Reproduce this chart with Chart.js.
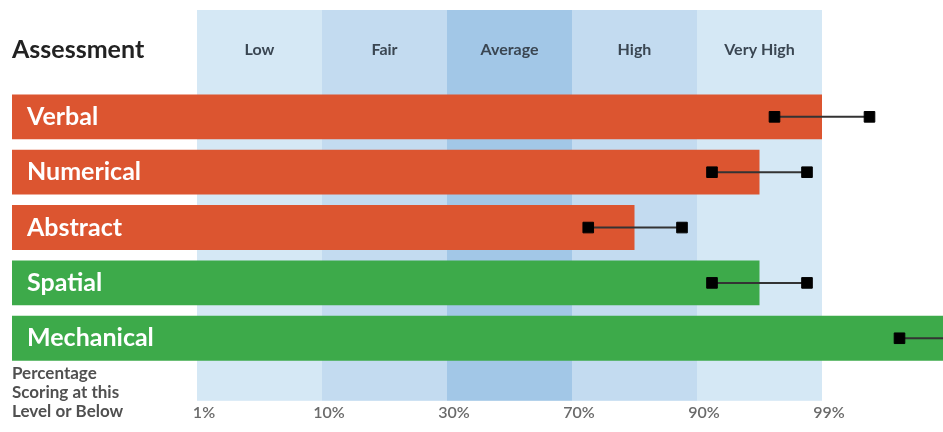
<!DOCTYPE html>
<html><head><meta charset="utf-8">
<script src="https://cdn.jsdelivr.net/npm/chart.js@4"></script>
<style>html,body{margin:0;padding:0;background:#fff;overflow:hidden}canvas{display:block}</style>
</head><body><canvas id="c" width="943" height="432" style="width:943px;height:432px"></canvas>
<script>
// ---- data ----
const categories = ['Verbal', 'Numerical', 'Abstract', 'Spatial', 'Mechanical'];
const barScores = [5.0, 4.5, 3.5, 4.5, 6.0];
const rangeLow = [4.62, 4.12, 3.13, 4.12, 5.62];
const rangeHigh = [5.38, 4.88, 3.88, 4.88, 6.38];
const barGroups = ['verbal', 'verbal', 'verbal', 'practical', 'practical'];
const bandLabels = ['Low', 'Fair', 'Average', 'High', 'Very High'];
const bandEdges = [0, 1, 2, 3, 4, 5];
const tickLabels = ['1%', '10%', '30%', '70%', '90%', '99%'];

// ---- styling / layout ----
const groupColors = { verbal: '#DC5530', practical: '#3DAA4A' };
const bandColors = ['#D5E8F5', '#C3DBF0', '#A2C7E7', '#C3DBF0', '#D5E8F5'];
const X_MIN = -1.48, X_MAX = 5.968;
const Y_MIN = -1.93, Y_MAX = 5.13;
const HEADER_ROW = -1.21;
const FONT = 'Lato, "Open Sans", sans-serif';

const bandsPlugin = {
  id: 'bands',
  beforeDatasetsDraw(chart) {
    const { ctx, chartArea, scales } = chart;
    const xs = scales.x, ys = scales.y;
    ctx.save();
    for (let i = 0; i < bandLabels.length; i++) {
      const x0 = xs.getPixelForValue(bandEdges[i]);
      const x1 = xs.getPixelForValue(bandEdges[i + 1]);
      ctx.fillStyle = bandColors[i];
      ctx.fillRect(x0, chartArea.top, x1 - x0, chartArea.bottom - chartArea.top);
    }
    ctx.fillStyle = '#3a4652';
    ctx.font = 'bold 16px ' + FONT;
    ctx.textAlign = 'center';
    ctx.textBaseline = 'middle';
    const hy = ys.getPixelForValue(HEADER_ROW);
    for (let i = 0; i < bandLabels.length; i++) {
      const xc = (xs.getPixelForValue(bandEdges[i]) + xs.getPixelForValue(bandEdges[i + 1])) / 2;
      ctx.fillText(bandLabels[i], xc, hy);
    }
    ctx.restore();
  },
  afterDatasetsDraw(chart) {
    const { ctx, scales } = chart;
    const meta = chart.getDatasetMeta(0);
    ctx.save();
    ctx.fillStyle = '#ffffff';
    ctx.font = 'bold 25px ' + FONT;
    ctx.textAlign = 'left';
    ctx.textBaseline = 'middle';
    meta.data.forEach((el, i) => {
      ctx.fillText(categories[i], el.base + 15, el.y);
    });
    // titles
    const ys = scales.y;
    ctx.fillStyle = '#222222';
    ctx.font = 'bold 25px ' + FONT;
    ctx.fillText('Assessment', chart.chartArea.left, ys.getPixelForValue(HEADER_ROW));
    ctx.fillStyle = '#505050';
    ctx.font = 'bold 17px ' + FONT;
    const lines = ['Percentage', 'Scoring at this', 'Level or Below'];
    lines.forEach((t, i) => ctx.fillText(t, chart.chartArea.left, 374 + i * 19));
    ctx.restore();
  }
};

const errorSets = categories.map((c, i) => ({
  type: 'scatter',
  label: c + ' range',
  data: [{ x: rangeLow[i], y: i }, { x: rangeHigh[i], y: i }],
  showLine: true,
  borderColor: '#333333',
  borderWidth: 2,
  pointStyle: 'rect',
  pointRadius: 7.5,
  pointBackgroundColor: '#000000',
  pointBorderColor: '#000000',
  pointBorderWidth: 1,
  order: 1
}));

new Chart(document.getElementById('c'), {
  data: {
    datasets: [
      {
        type: 'bar',
        indexAxis: 'y',
        label: 'Score',
        data: barScores.map((v, i) => ({ x: v, y: i })),
        backgroundColor: barGroups.map(g => groupColors[g]),
        base: X_MIN,
        barPercentage: 0.81,
        categoryPercentage: 1,
        borderWidth: 0,
        order: 2
      },
      ...errorSets
    ]
  },
  options: {
    responsive: false,
    animation: false,
    devicePixelRatio: 1,
    layout: { autoPadding: false, padding: { top: 10, left: 12, right: 0, bottom: 8 } },
    plugins: { legend: { display: false }, tooltip: { enabled: false } },
    scales: {
      x: {
        type: 'linear',
        min: X_MIN, max: X_MAX,
        afterBuildTicks: s => { s.ticks = bandEdges.map(v => ({ value: v })); },
        afterFit: s => { s.paddingLeft = 0; s.paddingRight = 0; },
        ticks: {
          callback: (v, i) => tickLabels[i],
          font: { family: FONT, size: 16, weight: '600' },
          color: '#6a6a6a',
          padding: 2,
          labelOffset: 7,
          autoSkip: false,
          maxRotation: 0
        },
        grid: { display: false, drawTicks: false },
        border: { display: false }
      },
      y: {
        type: 'linear',
        reverse: true,
        offset: false,
        min: Y_MIN, max: Y_MAX,
        display: false,
        afterBuildTicks: s => { s.ticks = categories.map((c, i) => ({ value: i })); }
      }
    }
  },
  plugins: [bandsPlugin]
});
</script>
</body></html>
